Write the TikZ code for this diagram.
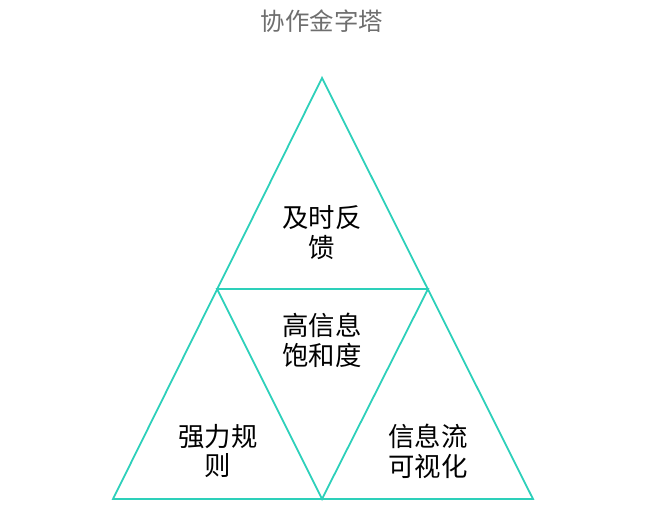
\documentclass[tikz,border=0pt]{standalone}
\usepackage{fontspec}
\newfontfamily\cjk{Noto Sans CJK SC}
\definecolor{pyrteal}{RGB}{45,208,186}
\definecolor{titlegray}{RGB}{110,110,110}
\tikzset{
  label text/.style={align=center, font=\cjk\fontsize{26.5}{30}\selectfont, text=black, inner sep=0pt},
  side/.style={draw=pyrteal, line width=1.8pt, line join=miter}
}
\begin{document}
\begin{tikzpicture}[x=1bp,y=-1bp]
\useasboundingbox (0,0) rectangle (650,524);
\node[font=\cjk\fontsize{24.5}{26}\selectfont, text=titlegray] (title) at (322,21) {协作金字塔};
\coordinate (v1) at (322,78);
\coordinate (v2) at (217,289);
\coordinate (v3) at (428,289);
\coordinate (v4) at (113,499);
\coordinate (v5) at (322,499);
\coordinate (v6) at (533,499);
\draw[side] (v1) -- (v4) -- (v6) -- cycle;
\draw[side] (v2) -- (v3) -- (v5) -- cycle;
\node[label text] (top) at (322,233) {及时反\\馈};
\node[label text] (mid) at (322,340) {高信息\\饱和度};
\node[label text] (left) at (218,451) {强力规\\则};
\node[label text] (right) at (428,451) {信息流\\可视化};
\end{tikzpicture}
\end{document}
